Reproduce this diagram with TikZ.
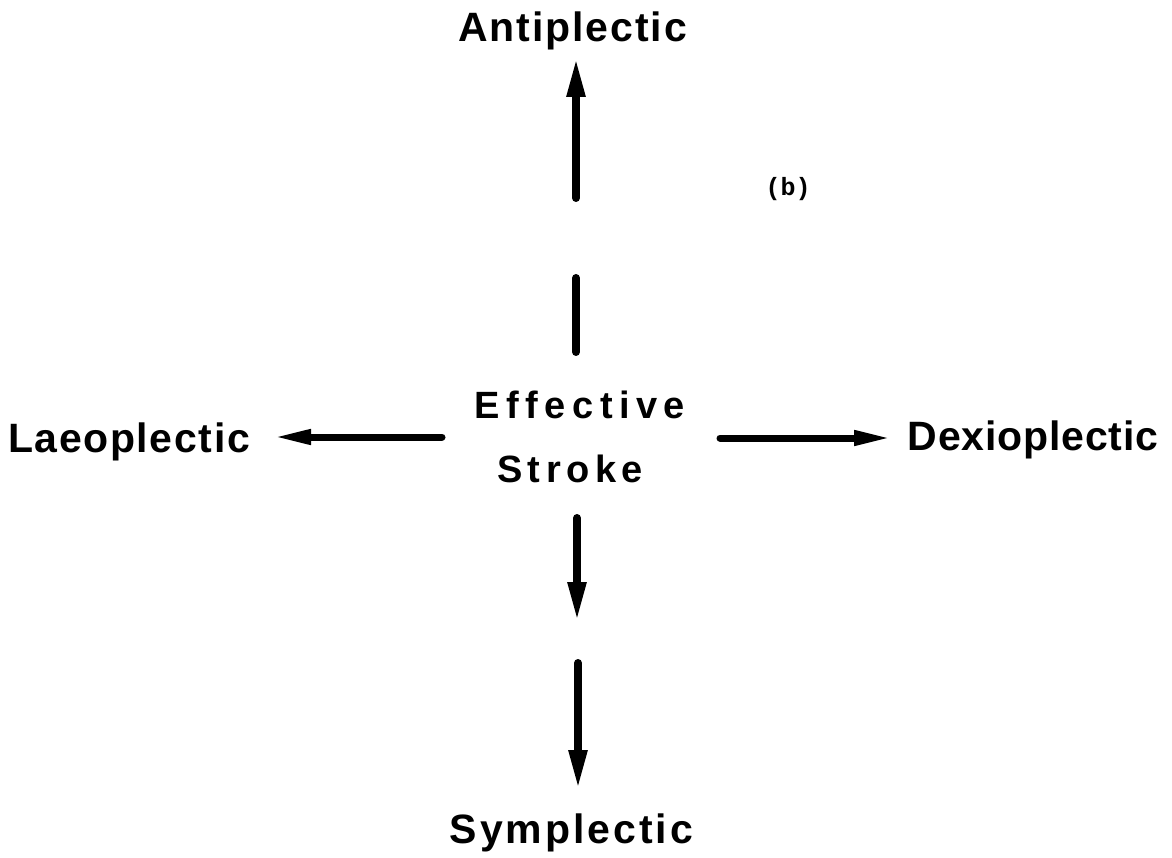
\documentclass[tikz,border=0pt]{standalone}
\usepackage{fontspec}
\usetikzlibrary{arrows.meta}
\newfontfamily\lblfont{Liberation Sans Bold}
\newfontfamily\tagfont{Liberation Mono Bold}
\tikzset{
  lbl/.style={anchor=base, inner sep=0pt, font=\lblfont\fontsize{41}{41}\selectfont},
  ctr/.style={anchor=base, inner sep=0pt, font=\lblfont\fontsize{38}{38}\selectfont},
  vbar/.style={line width=8pt, line cap=round},
  varr/.style={line width=8pt, line cap=round, -{Triangle[length=40pt,width=17pt]}},
  harr/.style={line width=7pt, line cap=round, -{Triangle[length=38pt,width=14pt]}},
}
\begin{document}
\begin{tikzpicture}[x=1pt,y=-1pt]
\useasboundingbox (0,0) rectangle (1172,858);
% labels
\node[lbl] (anti) at (572.5,42) {\addfontfeatures{LetterSpace=4.7}Antiplectic};
\node[lbl] (laeo) at (129,452) {\addfontfeatures{LetterSpace=4.0}Laeoplectic};
\node[lbl] (dexi) at (1033,450) {\addfontfeatures{LetterSpace=1.9}Dexioplectic};
\node[lbl] (symp) at (571.5,843) {\addfontfeatures{LetterSpace=7.2}Symplectic};
\node[ctr] (eff) at (580,418) {\addfontfeatures{LetterSpace=17}Effective};
\node[ctr] (str) at (570,482) {\addfontfeatures{LetterSpace=14.6}Stroke};
\node[anchor=base, inner sep=0pt, font=\tagfont\fontsize{25}{25}\selectfont] (tag) at (788,196) {(b)};
% connector end points
\coordinate (u1) at (576,352);
\coordinate (u2) at (576,278);
\coordinate (u3) at (576,198);
\coordinate (u4) at (576,57);
\coordinate (d1) at (577,518);
\coordinate (d2) at (577,622);
\coordinate (d3) at (578,663);
\coordinate (d4) at (578,790);
\coordinate (l1) at (442,437);
\coordinate (l2) at (273,437);
\coordinate (r1) at (720,438);
\coordinate (r2) at (892,438);
% connectors
\draw[vbar] (u1) -- (u2);
\draw[varr] (u3) -- (u4);
\draw[varr] (d1) -- (d2);
\draw[varr] (d3) -- (d4);
\draw[harr] (l1) -- (l2);
\draw[harr] (r1) -- (r2);
\end{tikzpicture}
\end{document}
